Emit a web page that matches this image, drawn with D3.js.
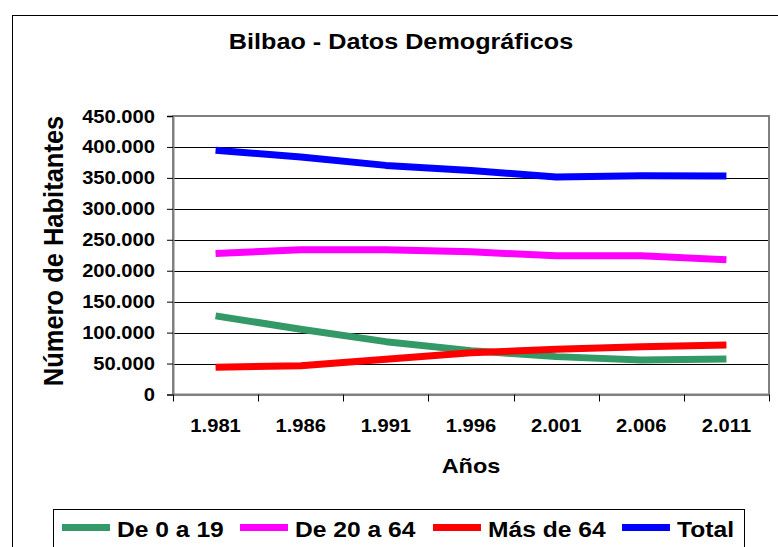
<!DOCTYPE html>
<html>
<head>
<meta charset="utf-8">
<script src="https://cdn.jsdelivr.net/npm/d3@7"></script>
<style>
  body { margin: 0; background: #fff; }
  text { font-family: "Liberation Sans", Arial, sans-serif; font-weight: bold; fill: #000; }
</style>
</head>
<body>
<svg id="chart" width="778" height="547"></svg>
<script>
'use strict'

// datos
const years = [1981, 1986, 1991, 1996, 2001, 2006, 2011]
const de0a19 = [127000, 105500, 85400, 70900, 61200, 55800, 57400]
const de20a64 = [227800, 233800, 233800, 230600, 224000, 224000, 217600]
const masDe64 = [44000, 46600, 57000, 67600, 73000, 77300, 80000]
const total = [394500, 383800, 370200, 362000, 351500, 353600, 353000]
const yTicks = [0, 50000, 100000, 150000, 200000, 250000, 300000, 350000, 400000, 450000]
const seriesNames = ['De 0 a 19', 'De 20 a 64', 'Más de 64', 'Total']
const seriesColors = ['#339966', '#ff00ff', '#ff0000', '#0000ff']

const series = [de0a19, de20a64, masDe64, total].map((vals, i) => ({
    name: seriesNames[i],
    color: seriesColors[i],
    values: vals.map((v, j) => ({ year: years[j], v: v }))
}))

const es = d3.formatLocale({ decimal: ',', thousands: '.', grouping: [3], currency: ['', ' €'] })
const fmt = es.format(',d')

const SX = 1.12 // el original esta algo estirado en horizontal
const svg = d3.select('#chart')

function label(x, y, str, size, anchor, rot) {
    return svg.append('text')
        .attr('transform', `translate(${x},${y}) scale(${SX},1)` + (rot ? ` rotate(${rot})` : ''))
        .attr('text-anchor', anchor)
        .style('font-size', size + 'px')
        .text(str)
}

// marco exterior
svg.append('rect')
    .attr('x', 12.5).attr('y', 15.5)
    .attr('width', 800).attr('height', 600)
    .attr('fill', 'none').attr('stroke', '#000').attr('stroke-width', 1)

const plotL = 173, plotR = 769, plotT = 116, plotB = 394.5

let scaleX = d3.scaleBand()
    .domain(years)
    .range([plotL, plotR])

let scaleY = d3.scaleLinear()
    .domain([0, 450000])
    .range([plotB, plotT])

// lineas de division
svg.append('g')
    .selectAll('line')
    .data(yTicks.slice(1, -1))
    .join('line')
    .attr('x1', plotL).attr('x2', plotR)
    .attr('y1', d => Math.round(scaleY(d)) + 0.5)
    .attr('y2', d => Math.round(scaleY(d)) + 0.5)
    .attr('stroke', '#000').attr('stroke-width', 1)

// borde del area de trazado
svg.append('rect')
    .attr('x', plotL).attr('y', plotT)
    .attr('width', plotR - plotL).attr('height', plotB - plotT)
    .attr('fill', 'none').attr('stroke', '#808080').attr('stroke-width', 2)

// eje Y
let axisY = d3.axisLeft(scaleY).tickValues(yTicks).tickSize(6).tickFormat('')
svg.append('g')
    .attr('transform', `translate(${plotL},0)`)
    .call(axisY)
    .call(g => g.select('.domain').attr('stroke', '#808080').attr('stroke-width', 2))
    .call(g => g.selectAll('.tick line').attr('stroke', '#000'))

yTicks.forEach(t => label(155, scaleY(t) + 6.5, fmt(t), 18, 'end'))

// eje X con marcas entre categorias
let axisX = d3.axisBottom(scaleX).tickSize(0).tickFormat('')
svg.append('g')
    .attr('transform', `translate(0,${plotB})`)
    .call(axisX)
    .call(g => g.select('.domain').attr('stroke', '#808080').attr('stroke-width', 2))

svg.append('g')
    .selectAll('line')
    .data(years.map(y => scaleX(y)).concat([plotR]))
    .join('line')
    .attr('x1', d => Math.round(d) + 0.5).attr('x2', d => Math.round(d) + 0.5)
    .attr('y1', plotB).attr('y2', plotB + 7)
    .attr('stroke', '#000')

years.forEach(y => label(scaleX(y) + scaleX.bandwidth() / 2, 432, fmt(y), 18, 'middle'))

// series
let line = d3.line()
    .x(d => scaleX(d.year) + scaleX.bandwidth() / 2)
    .y(d => scaleY(d.v))

svg.append('g')
    .selectAll('path')
    .data(series)
    .join('path')
    .attr('d', d => line(d.values))
    .attr('fill', 'none')
    .attr('stroke', d => d.color)
    .attr('stroke-width', 7)
    .attr('stroke-linejoin', 'round')

// titulos
label(401, 49, 'Bilbao - Datos Demográficos', 22.5, 'middle')
label(471, 473, 'Años', 21, 'middle')
label(63, 251, 'Número de Habitantes', 25.5, 'middle', -90)

// leyenda
svg.append('rect')
    .attr('x', 53.5).attr('y', 509.5)
    .attr('width', 691).attr('height', 60)
    .attr('fill', '#fff').attr('stroke', '#000').attr('stroke-width', 1)

const legendX = [62, 240, 433, 622]
series.forEach((s, i) => {
    svg.append('line')
        .attr('x1', legendX[i]).attr('x2', legendX[i] + 48)
        .attr('y1', 527.5).attr('y2', 527.5)
        .attr('stroke', s.color).attr('stroke-width', 7)
    label(legendX[i] + 55, 537, s.name, 22, 'start')
})
</script>
</body>
</html>
